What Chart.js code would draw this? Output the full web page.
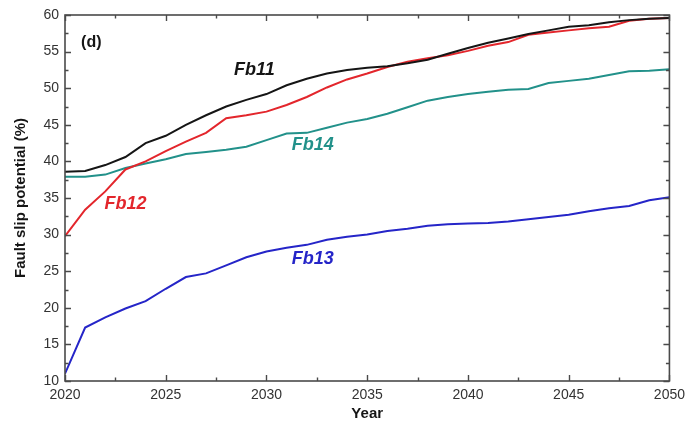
<!DOCTYPE html>
<html>
<head>
<meta charset="utf-8">
<script src="https://cdn.jsdelivr.net/npm/chart.js@4.4.1/dist/chart.umd.min.js"></script>
<style>
  html, body { margin: 0; padding: 0; background: #fff; }
  #wrap { width: 691px; height: 429px; position: relative; }
</style>
</head>
<body>
<div id="wrap"><canvas id="c" width="691" height="429"></canvas></div>
<script>
// Years on the horizontal axis
const years = [2020,2021,2022,2023,2024,2025,2026,2027,2028,2029,2030,2031,2032,2033,2034,2035,
               2036,2037,2038,2039,2040,2041,2042,2043,2044,2045,2046,2047,2048,2049,2050];

// Fault slip potential (%) per fault segment
const fb11 = [38.6,38.7,39.5,40.6,42.5,43.5,45.0,46.3,47.5,48.4,49.2,50.4,51.3,52.0,52.5,52.8,
              53.0,53.4,53.9,54.7,55.5,56.2,56.8,57.4,57.9,58.4,58.6,59.0,59.3,59.5,59.6];
const fb12 = [29.8,33.4,35.9,38.9,40.0,41.4,42.7,43.9,45.9,46.3,46.8,47.7,48.8,50.1,51.2,52.0,
              52.9,53.6,54.1,54.5,55.1,55.8,56.3,57.3,57.6,57.9,58.2,58.4,59.2,59.5,59.6];
const fb13 = [11.0,17.3,18.7,19.9,20.9,22.6,24.2,24.7,25.8,26.9,27.7,28.2,28.6,29.3,29.7,30.0,
              30.5,30.8,31.2,31.4,31.5,31.6,31.8,32.1,32.4,32.7,33.2,33.6,33.9,34.7,35.1];
const fb14 = [37.9,37.9,38.2,39.1,39.7,40.3,41.0,41.3,41.6,42.0,42.9,43.8,43.9,44.6,45.3,45.8,
              46.5,47.4,48.3,48.8,49.2,49.5,49.8,49.9,50.7,51.0,51.3,51.8,52.3,52.4,52.6];

// Axis ranges and tick steps
const xRange = [2020, 2050];
const yRange = [10, 60];
const majorStep = 5;
const minorStep = 2.5;

const seriesNames = ['Fb11', 'Fb12', 'Fb13', 'Fb14'];
const seriesColors = ['#151515', '#e3262c', '#2525c8', '#22918a'];

// Curve labels, anchored in data coordinates
const curveLabels = [
  { text: 'Fb11', x: 2029.4, y: 52.5, color: '#151515' },
  { text: 'Fb12', x: 2023.0, y: 34.2, color: '#e3262c' },
  { text: 'Fb13', x: 2032.3, y: 26.6, color: '#2525c8' },
  { text: 'Fb14', x: 2032.3, y: 42.2, color: '#22918a' }
];
const panelTag = { text: '(d)', x: 2020.8, y: 56.2 };

const seriesData = [fb11, fb12, fb13, fb14];
const datasets = seriesData.map((vals, i) => ({
  label: seriesNames[i],
  data: years.map((yr, k) => ({ x: yr, y: vals[k] })),
  borderColor: seriesColors[i],
  backgroundColor: seriesColors[i],
  borderWidth: 2,
  pointRadius: 0,
  tension: 0,
  fill: false
}));

const FONT = '"Liberation Sans", Arial, sans-serif';

// Frame, inward-pointing ticks on all four sides, and text annotations
const framePlugin = {
  id: 'frame',
  afterDatasetsDraw(chart) {
    const { ctx, chartArea: a, scales: { x, y } } = chart;
    ctx.save();
    ctx.strokeStyle = '#4a4a4a';
    ctx.lineWidth = 1.6;
    ctx.strokeRect(a.left, a.top, a.right - a.left, a.bottom - a.top);

    ctx.lineWidth = 1.4;
    const major = 6, minor = 3.5;
    ctx.beginPath();
    for (let v = xRange[0]; v <= xRange[1] + 1e-9; v += minorStep) {
      const len = (Math.abs(v / majorStep - Math.round(v / majorStep)) < 1e-9) ? major : minor;
      const px = Math.round(x.getPixelForValue(v)) + 0.5;
      ctx.moveTo(px, a.bottom); ctx.lineTo(px, a.bottom - len);
      ctx.moveTo(px, a.top); ctx.lineTo(px, a.top + len);
    }
    for (let v = yRange[0]; v <= yRange[1] + 1e-9; v += minorStep) {
      const len = (Math.abs(v / majorStep - Math.round(v / majorStep)) < 1e-9) ? major : minor;
      const py = Math.round(y.getPixelForValue(v)) + 0.5;
      ctx.moveTo(a.left, py); ctx.lineTo(a.left + len, py);
      ctx.moveTo(a.right, py); ctx.lineTo(a.right - len, py);
    }
    ctx.stroke();

    ctx.textBaseline = 'middle';
    ctx.textAlign = 'center';
    ctx.font = 'italic bold 18px ' + FONT;
    curveLabels.forEach(l => {
      ctx.fillStyle = l.color;
      ctx.fillText(l.text, x.getPixelForValue(l.x), y.getPixelForValue(l.y));
    });
    ctx.textAlign = 'left';
    ctx.font = 'bold 16px ' + FONT;
    ctx.fillStyle = '#151515';
    ctx.fillText(panelTag.text, x.getPixelForValue(panelTag.x), y.getPixelForValue(panelTag.y));
    ctx.restore();
  }
};

new Chart(document.getElementById('c'), {
  type: 'line',
  data: { datasets },
  options: {
    responsive: false,
    animation: false,
    events: [],
    layout: { padding: { left: 0, right: 20, top: 15, bottom: 0 } },
    plugins: { legend: { display: false }, tooltip: { enabled: false } },
    scales: {
      x: {
        type: 'linear',
        min: xRange[0], max: xRange[1],
        afterFit(s) { s.height = 48; },
        grid: { display: false, drawTicks: false },
        border: { display: false },
        ticks: {
          stepSize: majorStep,
          padding: 6,
          maxRotation: 0,
          color: '#333',
          font: { family: FONT, size: 14 },
          callback: v => String(v)
        },
        title: {
          display: true, text: 'Year', color: '#151515',
          font: { family: FONT, size: 15, weight: 'bold' },
          padding: { top: 0, bottom: 6 }
        }
      },
      y: {
        min: yRange[0], max: yRange[1],
        afterFit(s) { s.width = 65; },
        grid: { display: false, drawTicks: false },
        border: { display: false },
        ticks: {
          stepSize: majorStep,
          padding: 6,
          color: '#333',
          font: { family: FONT, size: 14 }
        },
        title: {
          display: true, text: 'Fault slip potential (%)', color: '#151515',
          font: { family: FONT, size: 15, weight: 'bold' },
          padding: { top: 12, bottom: 0 }
        }
      }
    }
  },
  plugins: [framePlugin]
});
</script>
</body>
</html>
